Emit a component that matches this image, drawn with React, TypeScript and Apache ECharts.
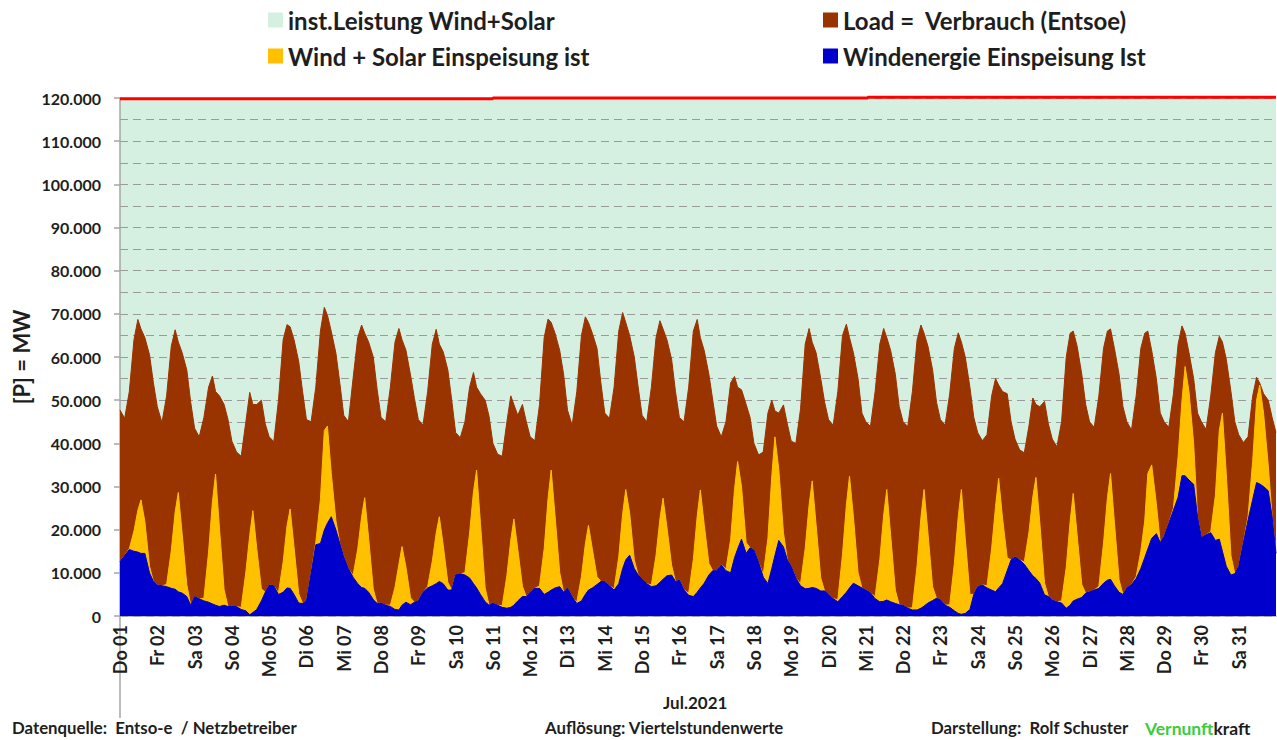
import React, { useEffect, useRef } from "react";
import * as echarts from "echarts";

const dayLabels = [
  "Do 01", "Fr 02", "Sa 03", "So 04", "Mo 05", "Di 06", "Mi 07", "Do 08", "Fr 09", "Sa 10",
  "So 11", "Mo 12", "Di 13", "Mi 14", "Do 15", "Fr 16", "Sa 17", "So 18", "Mo 19", "Di 20",
  "Mi 21", "Do 22", "Fr 23", "Sa 24", "So 25", "Mo 26", "Di 27", "Mi 28", "Do 29", "Fr 30", "Sa 31",
];

// sample hours within each day
const sampleHours = [0, 3, 6, 9, 11.5, 13.5, 16, 19, 21.5];

// values in thousand MW (GW), one row per day, one value per sample hour
const loadGW = [
  [47.7, 45.8, 52, 64, 68.7, 66.5, 64.5, 60.5, 54],
  [48.5, 44.8, 51, 62.5, 66.3, 63.5, 61, 57, 49.5],
  [43.5, 41.5, 46, 53, 55.6, 52, 51, 49, 45.5],
  [40.5, 38, 37, 45, 51.8, 49, 49, 50, 44.5],
  [41.5, 40.4, 50, 64, 67.5, 67, 64, 59, 52],
  [45.5, 45, 53, 66, 71.5, 69.7, 65.9, 60.8, 53.9],
  [46.5, 45, 55, 64.5, 67.4, 65.5, 63.5, 60, 52.5],
  [46, 45, 53, 63.5, 66.6, 64, 61.6, 55.8, 50.4],
  [45.5, 44.2, 52, 63, 66.4, 63, 61.2, 57, 50],
  [42.5, 41.3, 45, 53, 56.4, 53, 51.5, 50, 46.3],
  [40, 37.5, 37, 45, 51, 49, 46.5, 49, 45],
  [41.5, 40.6, 49, 64.5, 68.8, 68, 65.5, 61.5, 56],
  [47.7, 44.2, 52, 65, 69.3, 68, 65.5, 62, 54],
  [47, 45.8, 53, 66, 70.3, 68, 65, 60, 53],
  [46.5, 45, 53, 64.5, 68.4, 66.5, 64, 59.5, 52],
  [46, 45, 53, 66, 68.7, 64.5, 61.5, 56, 50],
  [44, 41.5, 45, 54, 55.5, 53, 52.4, 49, 46],
  [40, 37.3, 38, 47, 50, 47.5, 47, 48.9, 44.5],
  [40.5, 40, 48, 63, 66.6, 63.4, 61, 55, 49.5],
  [45.5, 44.2, 52, 65, 67.6, 64.5, 61, 55, 47],
  [45, 43.9, 52, 63, 66.6, 64.5, 61.5, 56, 48.5],
  [45, 43.9, 52, 64, 67.4, 65.5, 62.5, 57, 49.5],
  [45.5, 44.2, 51.5, 62, 65.6, 63.5, 60, 53, 46],
  [42.5, 40.6, 42, 51, 55, 53.5, 52, 51.5, 45],
  [41, 38.5, 37.8, 44, 50.5, 49, 48.5, 49.7, 44.5],
  [41, 39.2, 45, 60, 65.5, 66, 62.5, 56, 49],
  [45, 43.7, 51, 62, 66, 66.5, 62, 56, 48.5],
  [45, 43.1, 51, 62, 65.5, 66, 61.5, 55, 47],
  [45, 43.7, 51.5, 63, 67.2, 65.5, 61, 55, 47],
  [45, 43.2, 51, 61, 64.8, 63.5, 59.5, 52, 45],
  [42, 40.2, 41.5, 51, 55.3, 54, 51.5, 50, 46],
];
const loadEndGW = 42.5;

const windSolarGW = [
  [12.6, 14, 15.6, 19.7, 24.5, 26.9, 21.9, 11.5, 8],
  [7.2, 7, 7.3, 15.1, 24.1, 28.6, 19.1, 7.3, 2.5],
  [4.5, 4, 4.1, 14.8, 26.5, 32.9, 20.4, 6.1, 2.2],
  [2.2, 2.2, 2, 10.2, 18.7, 24.4, 15.7, 6.3, 5.5],
  [7.2, 7, 5.4, 12.5, 20.9, 24.8, 16, 5.2, 2.9],
  [3.5, 9.9, 17, 27, 43, 44, 33, 22, 16.8],
  [13.7, 11, 9.4, 15.5, 23, 27.4, 18.1, 6.3, 2.9],
  [3, 2.5, 2.5, 6.7, 12, 16.1, 11.4, 4.2, 3.2],
  [3.5, 5.5, 6.8, 12.7, 19.2, 23, 16.5, 7.8, 6],
  [9.5, 9.8, 10, 19.2, 28.8, 33.8, 21.4, 6.6, 2.5],
  [3, 2.5, 2.4, 9.4, 17.6, 22.5, 15.5, 6.9, 4.5],
  [5.5, 6.4, 7, 15.6, 27.2, 33.8, 23.2, 10.1, 5.5],
  [6.5, 4.5, 3.2, 9.2, 16.7, 21, 15.5, 9.1, 8],
  [8, 7, 6.3, 13.7, 23.7, 29.3, 23.9, 13, 9.5],
  [8.5, 7.5, 7.2, 14.1, 22.5, 27.3, 20.6, 11.8, 8],
  [8.3, 6, 5.3, 13.1, 23.2, 29.2, 21.2, 12.2, 10.5],
  [10.5, 11.8, 10.9, 17.7, 29.3, 35.8, 30, 17, 15.8],
  [15.3, 12.5, 9.6, 18, 32.5, 41.5, 34, 19.3, 13],
  [11.5, 8.8, 7.5, 15.7, 25.7, 31.3, 21.2, 8.8, 5.8],
  [5, 4, 3.8, 14.3, 25.7, 32.4, 23.1, 10.1, 6.5],
  [6, 5.4, 4.5, 13, 23.4, 29.3, 18.7, 6, 2.6],
  [2.5, 1.8, 1.9, 11.7, 22.9, 29.3, 19.2, 6.8, 4.1],
  [3.8, 2.5, 2.6, 12.2, 23.1, 29.3, 18, 5, 5],
  [6.8, 7.2, 7, 15.7, 25.4, 31.9, 22.7, 13.5, 13],
  [13.7, 13, 12.5, 19.4, 27.6, 32.1, 21.6, 7.7, 4.5],
  [3.7, 3.3, 3.5, 11.3, 21.9, 28.4, 18.8, 7.3, 5.3],
  [5.6, 6, 6.9, 16.9, 27.4, 33, 21.7, 8.4, 5],
  [6.5, 7.3, 9.1, 15, 22, 33, 35, 26, 17],
  [18.5, 21.5, 25, 37, 50, 57.8, 52, 40, 23],
  [18.2, 18.8, 19.5, 28, 43, 47, 33, 14, 9.8],
  [11.5, 17, 23, 36, 50, 53.5, 47, 35, 23],
];
const windSolarEndGW = 14.5;

const windGW = [
  [12.6, 14, 15.4, 15, 14.8, 14.5, 14.5, 10, 8],
  [7.2, 7, 6.8, 6.4, 6.2, 5.6, 5.3, 4.5, 2.5],
  [4.5, 4, 3.5, 3.2, 2.8, 2.5, 2.2, 2.5, 2.2],
  [2.2, 2.2, 1.5, 1.2, 0.3, 0.8, 1.5, 3.5, 5.5],
  [7.2, 7, 5, 5.5, 6.5, 6.4, 5, 3, 2.9],
  [3.5, 9.9, 16.5, 16.8, 19.9, 21.5, 23, 19.9, 16.8],
  [13.7, 11, 9, 7.5, 6.6, 6.4, 5.5, 3.8, 2.9],
  [3, 2.5, 2.2, 1.5, 1.4, 2.5, 3.2, 2.6, 3.2],
  [3.5, 5.5, 6.5, 7, 7.5, 8, 7.5, 6, 6],
  [9.5, 9.8, 9.5, 8.8, 7.5, 6.5, 5, 3.3, 2.5],
  [3, 2.5, 2, 1.8, 2, 2.5, 3.5, 4.5, 4.5],
  [5.5, 6.4, 6.4, 5, 5.5, 6, 6.5, 6.8, 5.5],
  [6.5, 4.5, 2.9, 3.5, 5, 6, 6.5, 7.3, 8],
  [8, 7, 6, 7.5, 11, 13, 14.1, 11, 9.5],
  [8.5, 7.5, 6.8, 7, 7.8, 8.5, 9.3, 9.5, 8],
  [8.3, 6, 4.8, 4.5, 5.5, 6.5, 7.6, 9.5, 10.5],
  [10.5, 11.8, 10.5, 10, 13.5, 15.5, 17.8, 14.5, 15.8],
  [15.3, 12.5, 9, 7.5, 11, 14, 17.5, 16, 13],
  [11.5, 8.8, 7, 6.3, 6.4, 6.6, 6.4, 5.8, 5.8],
  [5, 4, 3.3, 4.5, 5.5, 6.5, 7.6, 7, 6.5],
  [6, 5.4, 4, 3.3, 3.4, 3.7, 3.3, 2.9, 2.6],
  [2.5, 1.8, 1.4, 1.4, 1.8, 2.3, 3, 3.6, 4.1],
  [3.8, 2.5, 2, 1.2, 0.6, 0.4, 0.6, 1.5, 5],
  [6.8, 7.2, 6.5, 6, 5.6, 6.5, 7.5, 10.5, 13],
  [13.7, 13, 12, 10.5, 9.3, 8.7, 7.6, 4.9, 4.5],
  [3.7, 3.3, 3, 1.8, 2.5, 3.5, 3.9, 4.3, 5.3],
  [5.6, 6, 6.4, 7.6, 8.3, 8.5, 7, 5.5, 5],
  [6.5, 7.3, 8.7, 11, 13.5, 15.5, 18, 19.1, 17],
  [18.5, 21.5, 24.5, 27.5, 32.5, 32.5, 31.5, 30.5, 23],
  [18.2, 18.8, 19.3, 17.5, 17.8, 15, 11.5, 9.5, 9.8],
  [11.5, 17, 22.2, 27, 30.9, 30.6, 30, 29, 23],
];
const windEndGW = 14.5;

// installed capacity wind+solar (step line at top)
const capacityDays = [0, 10, 20.05, 31];
const capacityGW = [119.8, 120.0, 120.2, 120.2];

const GREEN = "#d5efe0";
const BROWN = "#993300";
const YELLOW = "#ffc000";
const BLUE = "#0000cc";
const RED = "#ff0000";
const TEXT = "#1e1e1e";
const AXIS = "#a6a6a6";
const FONT = "Lato, 'Open Sans', sans-serif";

function buildPoints(rows: number[][], endValue: number) {
  const pts: number[][] = [];
  rows.forEach((row, d) => {
    row.forEach((v, i) => {
      pts.push([d + sampleHours[i] / 24, v * 1000]);
    });
  });
  pts.push([rows.length, endValue * 1000]);
  return pts;
}

function fmtThousands(v: number) {
  return String(Math.round(v)).replace(/\B(?=(\d{3})+(?!\d))/g, ".");
}

export default function App() {
  const ref = useRef<HTMLDivElement>(null);

  useEffect(() => {
    if (!ref.current) return;
    const chart = echarts.init(ref.current, null, { renderer: "svg" });

    const legendCommon = {
      icon: "rect",
      itemWidth: 15,
      itemHeight: 15,
      padding: 0,
      selectedMode: false,
      textStyle: { fontSize: 24, fontWeight: "bold", color: TEXT, fontFamily: FONT },
    };

    const areaSeries = (name: string, color: string, data: number[][], z: number) => ({
      name,
      type: "line",
      data,
      showSymbol: false,
      symbol: "none",
      z,
      itemStyle: { color },
      lineStyle: { color, width: 1 },
      areaStyle: { color, opacity: 1 },
    });

    chart.setOption({
      animation: false,
      grid: {
        left: 120,
        right: 1,
        top: 98,
        bottom: 124,
        show: true,
        backgroundColor: GREEN,
        borderWidth: 0,
      },
      legend: [
        { ...legendCommon, left: 268, top: 8, data: [{ name: "inst.Leistung Wind+Solar", itemStyle: { color: GREEN, borderWidth: 0 } }] },
        { ...legendCommon, left: 268, top: 44, data: ["Wind + Solar Einspeisung ist"] },
        { ...legendCommon, left: 823, top: 8, data: ["Load =  Verbrauch (Entsoe)"] },
        { ...legendCommon, left: 823, top: 44, data: ["Windenergie Einspeisung Ist"] },
      ],
      xAxis: {
        type: "value",
        min: 0,
        max: dayLabels.length,
        interval: 1,
        axisLine: { show: true, lineStyle: { color: AXIS, width: 1.5 } },
        axisTick: { show: false },
        splitLine: { show: false },
        axisLabel: {
          rotate: 90,
          margin: 9,
          fontSize: 18,
          fontWeight: "bold",
          color: TEXT,
          fontFamily: FONT,
          formatter: (v: number) => dayLabels[Math.round(v)] ?? "",
        },
      },
      yAxis: [
        {
          type: "value",
          min: 0,
          max: 120000,
          interval: 5000,
          name: "[P] = MW",
          nameLocation: "middle",
          nameGap: 88,
          nameRotate: 90,
          nameTextStyle: { fontSize: 22, fontWeight: "bold", color: TEXT, fontFamily: FONT },
          axisLine: { show: true, lineStyle: { color: AXIS, width: 1.5 } },
          axisTick: { show: false },
          splitLine: { show: true, lineStyle: { color: "#9a9a9a", width: 1.2, type: [8, 5] } },
          axisLabel: { show: false },
        },
        {
          type: "value",
          min: 0,
          max: 120000,
          interval: 10000,
          position: "left",
          axisLine: { show: false },
          axisTick: { show: true, length: 6, lineStyle: { color: AXIS, width: 1.5 } },
          splitLine: { show: false },
          axisLabel: {
            margin: 19,
            fontSize: 16,
            fontWeight: "bold",
            color: TEXT,
            fontFamily: FONT,
            formatter: (v: number) => fmtThousands(v),
          },
        },
      ],
      series: [
        areaSeries("Load =  Verbrauch (Entsoe)", BROWN, buildPoints(loadGW, loadEndGW), 2),
        areaSeries("Wind + Solar Einspeisung ist", YELLOW, buildPoints(windSolarGW, windSolarEndGW), 3),
        areaSeries("Windenergie Einspeisung Ist", BLUE, buildPoints(windGW, windEndGW), 4),
        {
          name: "inst.Leistung Wind+Solar",
          type: "line",
          step: "end",
          data: capacityDays.map((d, i) => [d, capacityGW[i] * 1000]),
          showSymbol: false,
          symbol: "none",
          clip: false,
          z: 5,
          itemStyle: { color: GREEN },
          lineStyle: { color: RED, width: 3 },
        },
      ],
      graphic: [
        {
          type: "line",
          shape: { x1: 120, y1: 616, x2: 120, y2: 718 },
          style: { stroke: AXIS, lineWidth: 1.5 },
        },
        {
          type: "text",
          left: 663,
          top: 694,
          style: { text: "Jul.2021", fontSize: 17, fontWeight: "bold", fill: TEXT, fontFamily: FONT },
        },
        {
          type: "text",
          left: 12,
          top: 719,
          style: { text: "Datenquelle:  Entso-e  / Netzbetreiber", fontSize: 16.8, fontWeight: "bold", fill: TEXT, fontFamily: FONT },
        },
        {
          type: "text",
          left: 545,
          top: 719,
          style: { text: "Auflösung: Viertelstundenwerte", fontSize: 16.8, fontWeight: "bold", fill: TEXT, fontFamily: FONT },
        },
        {
          type: "text",
          left: 931,
          top: 719,
          style: {
            text: "Darstellung:  Rolf Schuster",
            fontSize: 16.8,
            fontWeight: "bold",
            fill: TEXT,
            fontFamily: FONT,
          },
        },
        {
          type: "text",
          left: 1145,
          top: 719,
          style: {
            text: "{g|Vernunft}{k|kraft}",
            fontFamily: FONT,
            rich: {
              g: { fontSize: 17.5, fontWeight: "bold", fill: "#3ccc3c", fontFamily: FONT },
              k: { fontSize: 17.5, fontWeight: "bold", fill: TEXT, fontFamily: FONT },
            },
          },
        },
      ],
    });

    return () => chart.dispose();
  }, []);

  return (
    <div
      ref={ref}
      style={{ position: "absolute", left: 0, top: 0, width: 1277, height: 740, background: "#ffffff" }}
    />
  );
}
